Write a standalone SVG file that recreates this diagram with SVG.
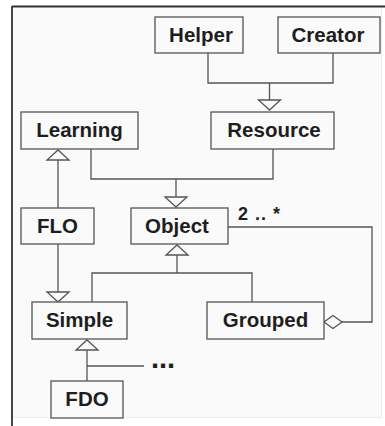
<svg xmlns="http://www.w3.org/2000/svg" width="385" height="426" viewBox="0 0 385 426">
  <defs>
    <style>
      .box { fill: #fafafa; stroke: #555; stroke-width: 1.3; }
      .lbl { font-family: "Liberation Sans", Arial, sans-serif; font-weight: bold; font-size: 20.5px; fill: #1e1e1e; text-anchor: middle; }
      .note { font-family: "Liberation Sans", Arial, sans-serif; font-weight: bold; fill: #1e1e1e; }
      .edge { fill: none; stroke: #555; stroke-width: 1.3; }
      .head { fill: #fafafa; stroke: #555; stroke-width: 1.3; stroke-linejoin: miter; }
    </style>
  </defs>

  <!-- canvas and frame -->
  <rect x="0" y="0" width="385" height="426" fill="#ffffff"/>
  <rect x="12" y="6.5" width="369.5" height="411" fill="#fafafa"/>
  <line x1="381.5" y1="6.5" x2="381.5" y2="417.5" stroke="#ececec" stroke-width="1"/>
  <line x1="12" y1="417.5" x2="381.5" y2="417.5" stroke="#ececec" stroke-width="1"/>
  <line x1="12" y1="6.5" x2="385" y2="6.5" stroke="#333" stroke-width="1.8"/>
  <line x1="12" y1="6" x2="12" y2="426" stroke="#333" stroke-width="1.8"/>

  <!-- connectors -->
  <g id="connectors">
    <!-- Helper, Creator -> Resource -->
    <polyline class="edge" points="208,53 208,83 333,83 333,53"/>
    <line class="edge" x1="269.5" y1="83" x2="269.5" y2="100"/>
    <polygon class="head" points="258.5,100 280.5,100 269.5,110"/>

    <!-- Learning, Resource -> Object -->
    <polyline class="edge" points="91,149 91,179 273,179 273,149"/>
    <line class="edge" x1="176" y1="179" x2="176" y2="197"/>
    <polygon class="head" points="165,197 187,197 176,207"/>

    <!-- FLO -> Learning -->
    <line class="edge" x1="58" y1="160" x2="58" y2="208"/>
    <polygon class="head" points="47,160 69,160 58,150"/>

    <!-- FLO -> Simple -->
    <line class="edge" x1="58" y1="244" x2="58" y2="292"/>
    <polygon class="head" points="47,292 69,292 58,302"/>

    <!-- Simple, Grouped -> Object -->
    <polyline class="edge" points="92,302 92,273 252,273 252,302"/>
    <line class="edge" x1="177" y1="273" x2="177" y2="255"/>
    <polygon class="head" points="166,255 188,255 177,245"/>

    <!-- Grouped aggregates Object -->
    <polyline class="edge" points="228,227 372,227 372,322 342,322"/>
    <polygon class="head" points="324,322 333,315.5 342,322 333,328.5"/>
    <text class="note" x="238" y="220" font-size="18" letter-spacing="1">2 .. *</text>

    <!-- FDO -> Simple -->
    <line class="edge" x1="87" y1="350" x2="87" y2="381"/>
    <polygon class="head" points="76,350 98,350 87,340"/>
    <line class="edge" x1="87" y1="366" x2="144" y2="366"/>
    <text class="note" x="151" y="367.5" font-size="29">...</text>
  </g>

  <!-- nodes -->
  <g id="helper">
    <rect class="box" x="155" y="17" width="88" height="36"/>
    <text class="lbl" x="201" y="42">Helper</text>
  </g>
  <g id="creator">
    <rect class="box" x="278" y="17" width="102" height="36"/>
    <text class="lbl" x="328" y="42">Creator</text>
  </g>
  <g id="learning">
    <rect class="box" x="21" y="112" width="117" height="37"/>
    <text class="lbl" x="79.5" y="137">Learning</text>
  </g>
  <g id="resource">
    <rect class="box" x="211" y="112" width="123" height="37"/>
    <text class="lbl" x="274" y="137">Resource</text>
  </g>
  <g id="flo">
    <rect class="box" x="21" y="208" width="73" height="36"/>
    <text class="lbl" x="57.5" y="233">FLO</text>
  </g>
  <g id="object">
    <rect class="box" x="131" y="208" width="97" height="36"/>
    <text class="lbl" x="177" y="233">Object</text>
  </g>
  <g id="simple">
    <rect class="box" x="32" y="302" width="95" height="37"/>
    <text class="lbl" x="79.5" y="327">Simple</text>
  </g>
  <g id="grouped">
    <rect class="box" x="207" y="302" width="117" height="37"/>
    <text class="lbl" x="265.5" y="327">Grouped</text>
  </g>
  <g id="fdo">
    <rect class="box" x="51" y="381" width="72" height="37"/>
    <text class="lbl" x="87" y="406">FDO</text>
  </g>
</svg>
